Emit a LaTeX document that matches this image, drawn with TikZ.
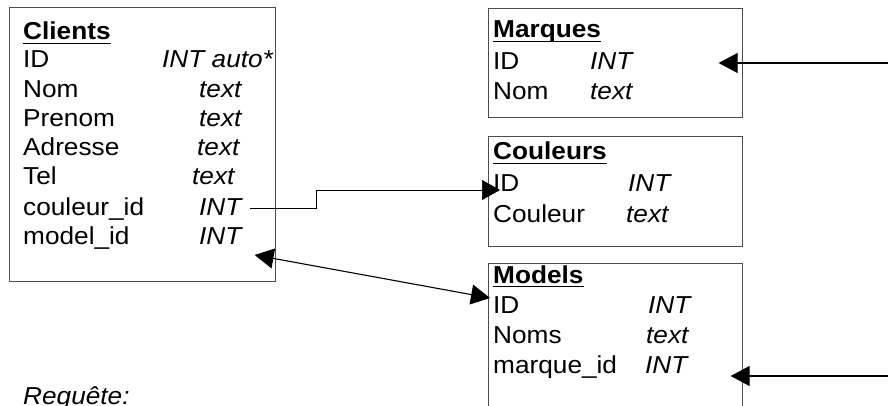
\documentclass[tikz,border=0pt]{standalone}
\usepackage{fontspec}
\setmainfont{Liberation Sans}[FakeStretch=1.07]
\usetikzlibrary{arrows.meta,positioning}

\begin{document}
\begin{tikzpicture}[
  x=1pt,y=-1pt,
  tbl/.style={draw=black!70,line width=0.9pt,inner sep=0pt},
  fld/.style={anchor=base west,inner sep=0pt,font=\fontsize{24.5}{29}\selectfont},
  typ/.style={fld,font=\fontsize{24.5}{29}\selectfont\itshape},
  ttl/.style={fld,font=\fontsize{24.5}{29}\selectfont\bfseries},
  uline/.style={line width=1.7pt},
  link/.style={-{Triangle[length=19pt,width=20pt]},line width=1.1pt},
  thin link/.style={-{Triangle[length=18pt,width=20pt]},line width=0.7pt}
]
\useasboundingbox (0,0) rectangle (888,406);
\clip (0,0) rectangle (888,406);

% tables
\node[tbl,minimum width=266pt,minimum height=274pt] (cli) at (142,144) {};
\node[tbl,minimum width=254pt,minimum height=109pt] (mar) at (615,62.5) {};
\node[tbl,minimum width=254pt,minimum height=110pt] (cou) at (615,191) {};
\node[tbl,minimum width=254pt,minimum height=170pt] (mod) at (615,348) {};

% Clients
\node[ttl] (cliT) at (23,40) {Clients};
\draw[uline] ([yshift=-3.5pt]cliT.base west) -- ([yshift=-3.5pt]cliT.base east);
\node[fld] (cliID) at (23,68) {ID};        \node[typ] (cliIDT) at (162,68) {INT auto*};
\node[fld] (cliNom) at (23,97.5) {Nom};    \node[typ] (cliNomT) at (199,97.5) {text};
\node[fld] (cliPre) at (23,127) {Prenom};  \node[typ] (cliPreT) at (199,127) {text};
\node[fld] (cliAdr) at (23,156) {Adresse}; \node[typ] (cliAdrT) at (197,156) {text};
\node[fld] (cliTel) at (23,185) {Tel};     \node[typ] (cliTelT) at (192,185) {text};
\node[fld] (cliCou) at (23,215) {couleur\_id}; \node[typ] (cliCouT) at (199,215) {INT};
\node[fld] (cliMod) at (23,244) {model\_id};   \node[typ] (cliModT) at (199,244) {INT};

% Marques
\node[ttl] (marT) at (493,38) {Marques};
\draw[uline] ([yshift=-3.5pt]marT.base west) -- ([yshift=-3.5pt]marT.base east);
\node[fld] (marID) at (493,70) {ID};   \node[typ] (marIDT) at (590,70) {INT};
\node[fld] (marNom) at (493,100) {Nom}; \node[typ] (marNomT) at (590,100) {text};

% Couleurs
\node[ttl] (couT) at (493,160) {Couleurs};
\draw[uline] ([yshift=-3.5pt]couT.base west) -- ([yshift=-3.5pt]couT.base east);
\node[fld] (couID) at (493,192) {ID};       \node[typ] (couIDT) at (628,192) {INT};
\node[fld] (couCou) at (493,222) {Couleur}; \node[typ] (couCouT) at (626,222) {text};

% Models
\node[ttl] (modT) at (493,283) {Models};
\draw[uline] ([yshift=-3.5pt]modT.base west) -- ([yshift=-3.5pt]modT.base east);
\node[fld] (modID) at (493,313) {ID};          \node[typ] (modIDT) at (648,313) {INT};
\node[fld] (modNoms) at (493,343) {Noms};      \node[typ] (modNomsT) at (646,343) {text};
\node[fld] (modMar) at (493,373) {marque\_id}; \node[typ] (modMarT) at (645,373) {INT};

\node[typ] (req) at (23,404) {Requête:};

% links
\coordinate (rt) at (900,0);
\coordinate (couA) at ([xshift=8pt,yshift=7pt]cliCouT.base east);
\coordinate (couB) at ([xshift=7pt,yshift=2pt]couID.base west);
\draw[thin link] (couA) -- ++(67,0) |- (couB);
\draw[link,{Triangle[length=19pt,width=20pt]}-{Triangle[length=19pt,width=20pt]}]
  ([xshift=13pt,yshift=-11pt]cliModT.base east) -- ([xshift=-3pt,yshift=15pt]modID.base west);
\coordinate (marA) at ([xshift=43pt,yshift=-3pt]modMarT.base east);
\coordinate (marB) at ([xshift=86pt,yshift=7pt]marIDT.base east);
\draw[link,{Triangle[length=19pt,width=20pt]}-{Triangle[length=19pt,width=20pt]}]
  (marA) -- (marA -| rt) -- (marB -| rt) -- (marB);
\end{tikzpicture}
\end{document}
